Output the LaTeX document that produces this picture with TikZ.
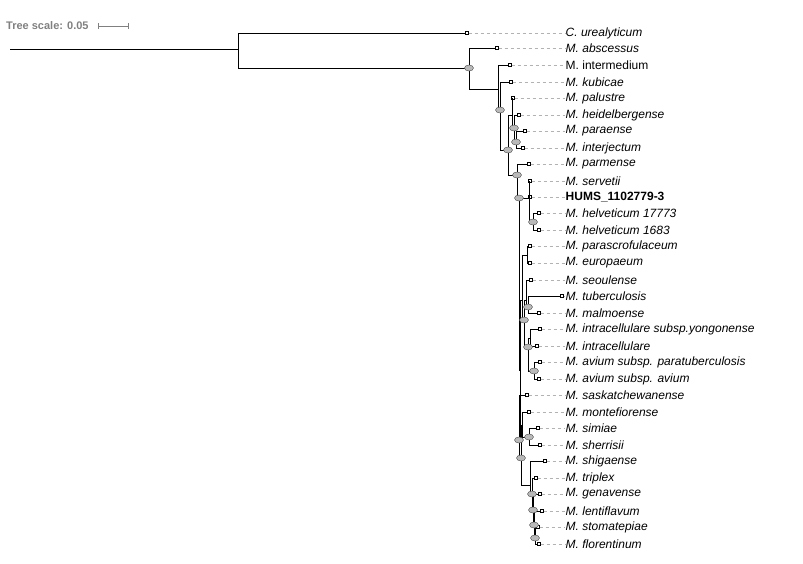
\documentclass[tikz,border=0pt]{standalone}
\usepackage{fontspec}
\setmainfont{Liberation Sans}
\usetikzlibrary{shapes.geometric}

\begin{document}
\begin{tikzpicture}[
            x = 1pt, y = -1pt, % pixel grid of the figure
            branch/.style = {draw = black, line width = 0.7pt},
            guide/.style = {draw = gray!60, dashed, line width = 0.4pt},
            tip/.style = {draw = black, fill = white, rectangle, line width = 0.4pt,
                inner sep = 0pt, minimum size = 3pt},
            bs/.style = {draw = black!70, fill = gray!55, ellipse, line width = 0.4pt,
                inner sep = 0pt, minimum width = 9pt, minimum height = 6pt},
            lbl/.style = {anchor = west, inner sep = 0.5pt, font = \fontsize{12}{13}\selectfont}
        ]
        \useasboundingbox (0,0) rectangle (803,563);

        % scale bar
        \node[anchor = west, text = gray, inner sep = 0pt, font = \fontsize{11}{12}\selectfont\bfseries]
            (scale) at (6,26) {Tree scale: 0.05};
        \coordinate (sa) at (98,26);
        \coordinate (sb) at (128,26);
        \draw[gray, line width = 0.5pt] (sa) -- (sb);
        \draw[gray, line width = 0.5pt] (98,23) -- (98,29) (128,23) -- (128,29);

        % internal nodes
        \coordinate (r) at (10,49);
        \coordinate (n0) at (238,49);
        \coordinate (n1) at (469,68);
        \coordinate (n2) at (498,89);
        \coordinate (n3) at (500,110);
        \coordinate (n4) at (508,150);
        \coordinate (n5) at (512,115);
        \coordinate (n5b) at (514,128);
        \coordinate (n5c) at (516,142);
        \coordinate (n6) at (517,175);
        \coordinate (n7) at (519,198);
        \coordinate (nhel) at (529,198);
        \coordinate (nhv) at (533,222);
        \coordinate (n8) at (520,370);
        \coordinate (nmid) at (522,300);
        \coordinate (na) at (527,255);
        \coordinate (nb) at (524,320);
        \coordinate (nc) at (526,300);
        \coordinate (nd) at (528,307);
        \coordinate (ne) at (528,347);
        \coordinate (ne1) at (530,338);
        \coordinate (nav) at (534,371);
        \coordinate (nlow) at (519,440);
        \coordinate (nl2) at (521,458);
        \coordinate (nl3) at (522,425);
        \coordinate (nsim) at (529,437);
        \coordinate (nl4) at (530,485);
        \coordinate (nl5) at (532,494);
        \coordinate (nl6) at (533,510);
        \coordinate (nl7) at (534,525);
        \coordinate (nl8) at (535,538);

        % leaves
        \foreach \n/\x/\y/\t in {
            l1/467/33/{\itshape C. urealyticum},
            l2/497/48/{\itshape M. abscessus},
            l3/510/65/{M. intermedium},
            l4/511/82/{\itshape M. kubicae},
            l5/513/98/{\itshape M. palustre},
            l6/519/115/{\itshape M. heidelbergense},
            l7/525/131/{\itshape M. paraense},
            l8/523/148/{\itshape M. interjectum},
            l9/529/164/{\itshape M. parmense},
            l10/530/181/{\itshape M. servetii},
            l11/530/197/{\bfseries HUMS\_1102779-3},
            l12/539/213/{\itshape M. helveticum 17773},
            l13/539/230/{\itshape M. helveticum 1683},
            l14/530/246/{\itshape M. parascrofulaceum},
            l15/530/263/{\itshape M. europaeum},
            l16/531/280/{\itshape M. seoulense},
            l17/562/296/{\itshape M. tuberculosis},
            l18/539/313/{\itshape M. malmoense},
            l19/540/329/{\itshape M. intracellulare subsp.yongonense},
            l20/537/346/{\itshape M. intracellulare},
            l21/540/362/{\itshape M. avium subsp. paratuberculosis},
            l22/539/379/{\itshape M. avium subsp. avium},
            l23/527/395/{\itshape M. saskatchewanense},
            l24/529/412/{\itshape M. montefiorense},
            l25/538/428/{\itshape M. simiae},
            l26/540/445/{\itshape M. sherrisii},
            l27/545/461/{\itshape M. shigaense},
            l28/536/478/{\itshape M. triplex},
            l29/540/494/{\itshape M. genavense},
            l30/542/511/{\itshape M. lentiflavum},
            l31/538/527/{\itshape M. stomatepiae},
            l32/539/544/{\itshape M. florentinum}} {
            \node[tip] (\n) at (\x,\y) {};
            \node[lbl] (\n-t) at (565,\y) {\t};
            \draw[guide] (\n) -- (\n-t.west);
        }

        % branches
        \draw[branch] (r) -- (n0);
        \foreach \p/\c in {n0/l1, n0/n1, n1/l2, n1/n2, n2/l3, n2/n3, n3/l4, n3/n4,
            n4/n5, n4/n6, n5/l5, n5/n5b, n5b/l6, n5b/n5c, n5c/l7, n5c/l8,
            n6/l9, n6/n7, n7/nhel, n7/n8, nhel/l10, nhel/l11, nhel/nhv, nhv/l12, nhv/l13,
            n8/nmid, n8/nlow, nmid/na, nmid/nb, na/l14, na/l15, nb/nc, nb/ne,
            nc/l16, nc/nd, nd/l17, nd/l18, ne/ne1, ne/nav, ne1/l19, ne1/l20, nav/l21, nav/l22,
            nlow/l23, nlow/nl2, nl2/nl3, nl2/nl4, nl3/l24, nl3/nsim, nsim/l25, nsim/l26,
            nl4/l27, nl4/nl5, nl5/l28, nl5/nl6, nl6/l29, nl6/nl7, nl7/l30, nl7/nl8,
            nl8/l31, nl8/l32}
            \draw[branch] (\p) |- (\c);

        % support values
        \foreach \b in {n1, n3, n4, n5b, n5c, n6, n7, nhv, nb, nd, ne, nav,
            nlow, nl2, nsim, nl5, nl6, nl7, nl8}
            \node[bs] at (\b) {};
\end{tikzpicture}
\end{document}
